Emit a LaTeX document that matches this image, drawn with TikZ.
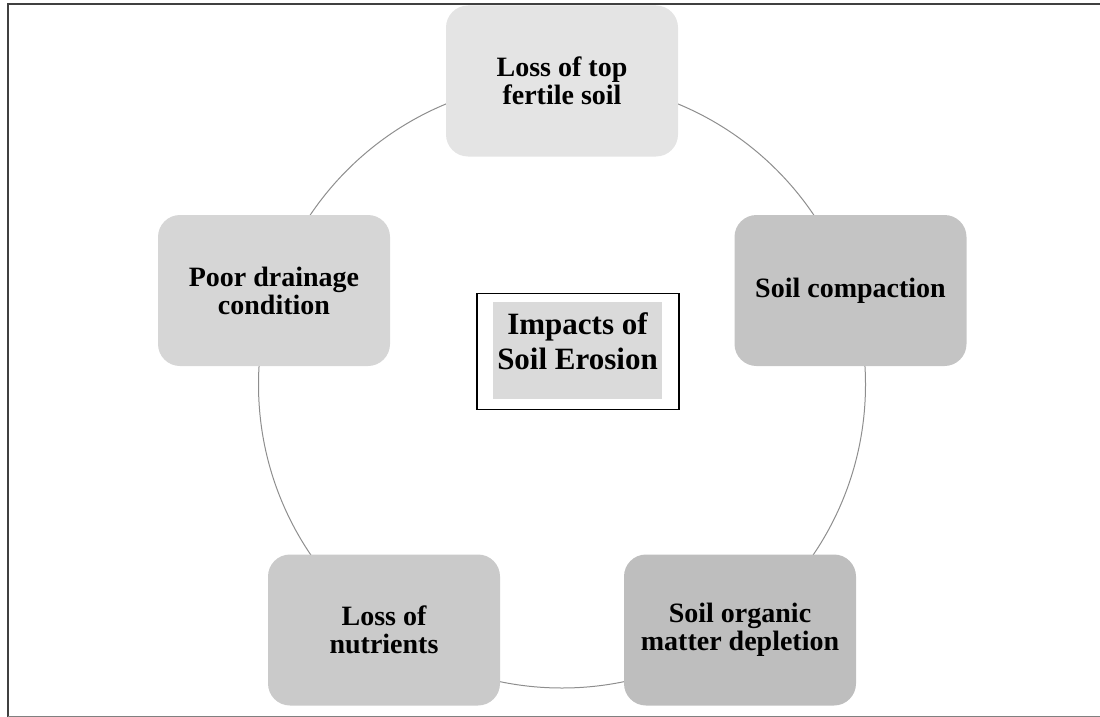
\documentclass[tikz,border=0pt]{standalone}
\usepackage{fontspec}
\setmainfont{Liberation Serif}
\definecolor{cTop}{HTML}{E4E4E4}
\definecolor{cRight}{HTML}{C4C4C4}
\definecolor{cBotR}{HTML}{BEBEBE}
\definecolor{cBotL}{HTML}{CACACA}
\definecolor{cLeft}{HTML}{D6D6D6}
\definecolor{cTitle}{HTML}{DADADA}
\definecolor{ring}{HTML}{8E8E8E}
\begin{document}
\begin{tikzpicture}[x=1pt,y=-1pt,
  box/.style={rounded corners=22pt, minimum width=232pt, minimum height=151pt,
    align=center, inner sep=0pt, font=\fontsize{28}{28}\selectfont\bfseries},
  titletext/.style={align=center, inner sep=0pt, font=\fontsize{31}{35}\selectfont\bfseries},
  frameline/.style={line width=2pt, black!75},
  ringline/.style={ring, line width=1pt}]
\useasboundingbox (0,0) rectangle (1100,717);
\draw[frameline] (8,717) -- (8,4) -- (1100,4);
\draw[gray, line width=1pt] (8,716) -- (1100,716);
\coordinate (c) at (562,384.5);
\draw[ringline] (c) circle (303.5pt);
\node[box, fill=cTop]   (n1) at (562,81)  {Loss of top\\fertile soil};
\node[box, fill=cRight] (n2) at (850.5,290.5) {Soil compaction};
\node[box, fill=cBotR]  (n3) at (740,630) {Soil organic\\matter depletion};
\node[box, fill=cBotL]  (n4) at (384,630) {Loss of\\nutrients};
\node[box, fill=cLeft]  (n5) at (274,290.5) {Poor drainage\\condition};
\node[draw, line width=1.5pt, minimum width=202pt, minimum height=116pt, inner sep=0pt] (outer) at (578,351.5) {};
\node[fill=cTitle, minimum width=169pt, minimum height=97pt, inner sep=0pt] (inner) at (577.5,350.5) {};
\node[titletext] (title) at (577.5,341) {Impacts of\\Soil Erosion};
\end{tikzpicture}
\end{document}
